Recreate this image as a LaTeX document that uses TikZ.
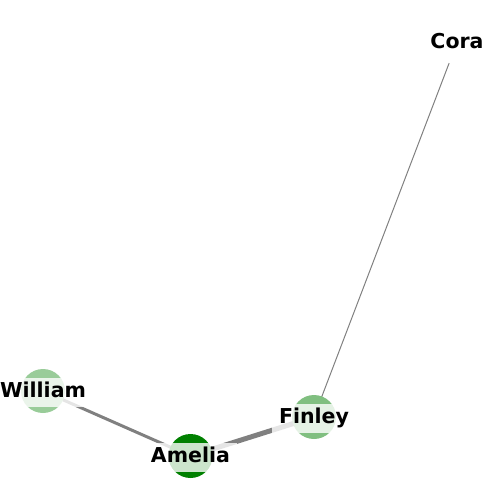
\documentclass[tikz,border=0pt]{standalone}
\usepackage{fontspec}
\setmainfont{DejaVu Sans}
\begin{document}
\begin{tikzpicture}[x=1pt,y=-1pt,
		edge/.style={draw=gray,line cap=butt},
		dot/.style={circle,minimum size=44pt,inner sep=0pt},
		lbl/.style={fill=white,fill opacity=0.8,text opacity=1,inner xsep=7pt,inner ysep=2pt,
			text height=17pt,text depth=8pt,anchor=base,yshift=-6pt,
			font=\fontsize{20.5}{24}\selectfont\bfseries}]
	\useasboundingbox (0,0) rectangle (500,500);
	% positions
	\coordinate (p-amelia) at (190.5,456);
	\coordinate (p-william) at (43,391);
	\coordinate (p-finley) at (314,417);
	\coordinate (p-cora) at (457,42.5);
	% links
	\draw[edge,line width=3pt] (p-william) -- (p-amelia);
	\draw[edge,line width=5pt] (p-amelia) -- (p-finley);
	\draw[edge,line width=1pt] (p-finley) -- (p-cora);
	% people
	\node[dot,fill=green!50!black] (amelia) at (p-amelia) {};
	\node[dot,fill=green!50!black!40] (william) at (p-william) {};
	\node[dot,fill=green!50!black!50] (finley) at (p-finley) {};
	\node[dot,fill=white] (cora) at (p-cora) {};
	\node[lbl] (amelia-lbl) at (amelia.center) {Amelia};
	\node[lbl] (william-lbl) at (william.center) {William};
	\node[lbl] (finley-lbl) at (finley.center) {Finley};
	\node[lbl] (cora-lbl) at (cora.center) {Cora};
\end{tikzpicture}
\end{document}
